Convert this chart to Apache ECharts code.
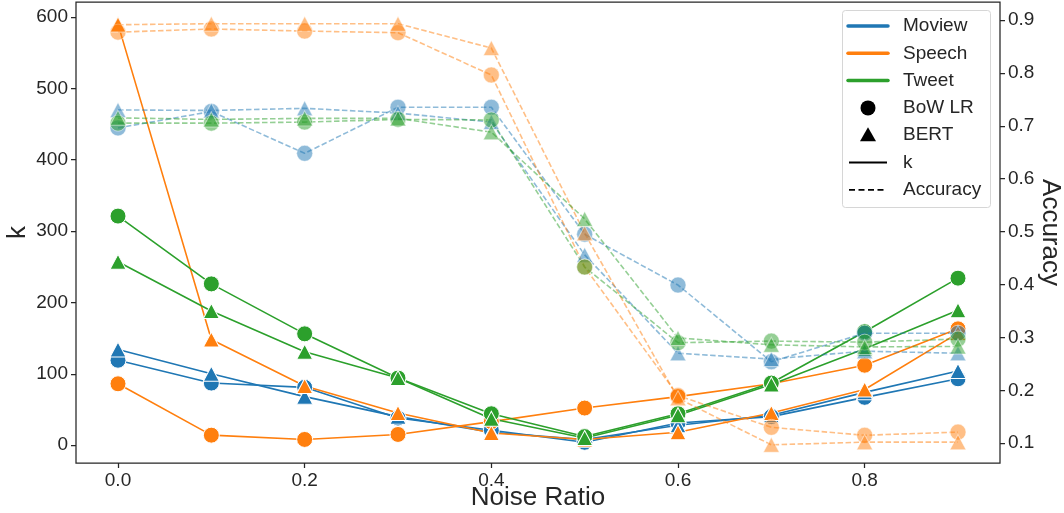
<!DOCTYPE html>
<html><head><meta charset="utf-8">
<script src="https://cdn.jsdelivr.net/npm/echarts@6/dist/echarts.min.js"></script>
<style>html,body{margin:0;padding:0;background:#fff}#c{width:1064px;height:513px}</style>
</head><body><div id="c"></div>
<script>
// ---- data ----
const noiseRatio = [0.0, 0.1, 0.2, 0.3, 0.4, 0.5, 0.6, 0.7, 0.8, 0.9];
const xTicks = [0.0, 0.2, 0.4, 0.6, 0.8];
const kTicks = [0, 100, 200, 300, 400, 500, 600];
const accTicks = [0.1, 0.2, 0.3, 0.4, 0.5, 0.6, 0.7, 0.8, 0.9];

// k values
const kMoviewBow   = [119, 87, 81, 38, 21, 4, 31, 40, 67, 93];
const kMoviewBert  = [134, 100, 68, 40, 18, 8, 28, 42, 74, 104];
const kSpeechBow   = [86, 14, 8, 15, 33, 52, 68, 86, 112, 163];
const kSpeechBert  = [590, 148, 83, 45, 17, 8, 18, 45, 78, 157];
const kTweetBow    = [321, 226, 156, 94, 44, 12, 44, 87, 159, 234];
const kTweetBert   = [257, 188, 131, 94, 37, 10, 42, 85, 135, 189];

// accuracy values
const accMoviewBow  = [0.696, 0.727, 0.648, 0.735, 0.735, 0.495, 0.399, 0.254, 0.308, 0.308];
const accMoviewBert = [0.730, 0.729, 0.733, 0.724, 0.707, 0.456, 0.270, 0.259, 0.274, 0.270];
const accSpeechBow  = [0.877, 0.883, 0.879, 0.876, 0.796, 0.433, 0.190, 0.130, 0.115, 0.121];
const accSpeechBert = [0.891, 0.893, 0.893, 0.893, 0.847, 0.497, 0.185, 0.097, 0.102, 0.102];
const accTweetBow   = [0.705, 0.705, 0.707, 0.712, 0.711, 0.433, 0.290, 0.293, 0.291, 0.297];
const accTweetBert  = [0.715, 0.712, 0.714, 0.714, 0.688, 0.524, 0.299, 0.286, 0.282, 0.283];

const colors = {Moview: '#1f77b4', Speech: '#ff7f0e', Tweet: '#2ca02c'};
const FONT = 'Liberation Sans, Arial, sans-serif';
const TXT = '#262626';

function pairs(vals) { return noiseRatio.map((x, i) => [x, vals[i]]); }

function mk(name, vals, color, symbol, yIdx, dashed) {
  const tri = symbol === 'triangle';
  return {
    name: name, type: 'line', yAxisIndex: yIdx, data: pairs(vals),
    symbol: symbol, symbolSize: tri ? [16, 15] : 16, showSymbol: true,
    lineStyle: {color: color, width: 1.6, type: dashed ? [5.5, 2.5] : 'solid', opacity: dashed ? 0.5 : 1},
    itemStyle: {color: color, borderColor: '#fff', borderWidth: 1, opacity: dashed ? 0.5 : 1},
    emphasis: {disabled: true}, animation: false, z: dashed ? 3 : 2
  };
}

const series = [
  mk('k Moview BoW', kMoviewBow, colors.Moview, 'circle', 0, false),
  mk('k Moview BERT', kMoviewBert, colors.Moview, 'triangle', 0, false),
  mk('k Speech BoW', kSpeechBow, colors.Speech, 'circle', 0, false),
  mk('k Speech BERT', kSpeechBert, colors.Speech, 'triangle', 0, false),
  mk('k Tweet BoW', kTweetBow, colors.Tweet, 'circle', 0, false),
  mk('k Tweet BERT', kTweetBert, colors.Tweet, 'triangle', 0, false),
  mk('acc Moview BoW', accMoviewBow, colors.Moview, 'circle', 1, true),
  mk('acc Moview BERT', accMoviewBert, colors.Moview, 'triangle', 1, true),
  mk('acc Speech BoW', accSpeechBow, colors.Speech, 'circle', 1, true),
  mk('acc Speech BERT', accSpeechBert, colors.Speech, 'triangle', 1, true),
  mk('acc Tweet BoW', accTweetBow, colors.Tweet, 'circle', 1, true),
  mk('acc Tweet BERT', accTweetBert, colors.Tweet, 'triangle', 1, true)
];

// legend drawn as graphic
const lgX = 842, lgY = 10, rowH = 27.3, lineX0 = 848, lineX1 = 888, textX = 903, first = 26;
const legendItems = [];
legendItems.push({type: 'rect', shape: {x: lgX + 0.5, y: lgY + 0.5, width: 148, height: 197, r: 3},
  style: {fill: 'rgba(255,255,255,0.8)', stroke: '#d6d6d6', lineWidth: 1}, z: 100});
const rows = [
  {label: 'Moview', kind: 'line', color: colors.Moview},
  {label: 'Speech', kind: 'line', color: colors.Speech},
  {label: 'Tweet', kind: 'line', color: colors.Tweet},
  {label: 'BoW LR', kind: 'circle'},
  {label: 'BERT', kind: 'triangle'},
  {label: 'k', kind: 'solid'},
  {label: 'Accuracy', kind: 'dashed'}
];
rows.forEach((r, i) => {
  const cy = first + i * rowH;
  if (r.kind === 'line') {
    legendItems.push({type: 'line', shape: {x1: lineX0, y1: cy, x2: lineX1, y2: cy},
      style: {stroke: r.color, lineWidth: 3.5, lineCap: 'round'}, z: 101});
  } else if (r.kind === 'circle') {
    legendItems.push({type: 'circle', shape: {cx: 868, cy: cy, r: 7.5}, style: {fill: '#000'}, z: 101});
  } else if (r.kind === 'triangle') {
    legendItems.push({type: 'polygon', shape: {points: [[868, cy - 8], [876, cy + 6], [860, cy + 6]]}, style: {fill: '#000'}, z: 101});
  } else if (r.kind === 'solid') {
    legendItems.push({type: 'line', shape: {x1: lineX0 + 1, y1: cy, x2: lineX1 - 1, y2: cy},
      style: {stroke: '#000', lineWidth: 1.8}, z: 101});
  } else {
    legendItems.push({type: 'line', shape: {x1: lineX0 + 1, y1: cy, x2: lineX1 - 1, y2: cy},
      style: {stroke: '#000', lineWidth: 1.8, lineDash: [6, 3.5]}, z: 101});
  }
  legendItems.push({type: 'text', x: textX, y: cy, style: {text: r.label, fill: TXT,
    font: '19px ' + FONT, verticalAlign: 'middle'}, z: 101});
});

const axisText = {color: TXT, fontSize: 19, fontFamily: FONT};
const tickStyle = {color: TXT, width: 1.25};

const option = {
  backgroundColor: '#fff',
  animation: false,
  grid: {left: 76, right: 64, top: 2, bottom: 50, containLabel: false, outerBoundsMode: 'none',
    show: true, borderColor: TXT, borderWidth: 1.25, backgroundColor: 'transparent'},
  xAxis: {
    type: 'value', min: -0.045, max: 0.945, position: 'bottom',
    name: 'Noise Ratio', nameLocation: 'middle', nameGap: 22, nameMoveOverlap: false,
    nameTextStyle: {color: TXT, fontSize: 26, fontFamily: FONT},
    axisLine: {show: false, onZero: false},
    axisTick: {show: true, length: 5, inside: false, lineStyle: tickStyle, customValues: xTicks},
    axisLabel: {customValues: xTicks, formatter: v => v.toFixed(1), margin: 8, ...axisText},
    splitLine: {show: false}
  },
  yAxis: [
    {
      type: 'value', min: -25, max: 621, position: 'left',
      name: 'k', nameLocation: 'middle', nameGap: 45, nameRotate: 90, nameMoveOverlap: false,
      nameTextStyle: {color: TXT, fontSize: 26, fontFamily: FONT},
      axisLine: {show: false, onZero: false},
      axisTick: {show: true, length: 5, lineStyle: tickStyle, customValues: kTicks},
      axisLabel: {customValues: kTicks, margin: 8, ...axisText},
      splitLine: {show: false}
    },
    {
      type: 'value', min: 0.0626, max: 0.934, position: 'right',
      name: 'Accuracy', nameLocation: 'middle', nameGap: 37, nameRotate: -90, nameMoveOverlap: false,
      nameTextStyle: {color: TXT, fontSize: 26, fontFamily: FONT},
      axisLine: {show: false, onZero: false},
      axisTick: {show: true, length: 5, lineStyle: tickStyle, customValues: accTicks},
      axisLabel: {customValues: accTicks, formatter: v => v.toFixed(1), margin: 8, ...axisText},
      splitLine: {show: false}
    }
  ],
  series: series,
  graphic: legendItems
};

const chart = echarts.init(document.getElementById('c'), null, {renderer: 'canvas'});
chart.setOption(option);
</script>
</body></html>
